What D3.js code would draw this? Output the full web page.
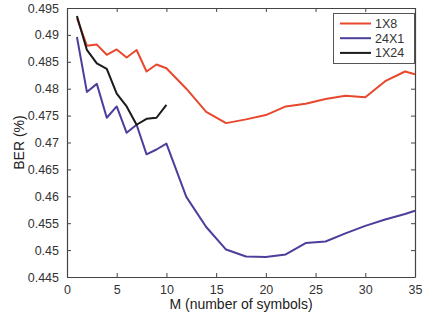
<!DOCTYPE html>
<html>
<head>
<meta charset="utf-8">
<script src="https://cdn.jsdelivr.net/npm/d3@7"></script>
<style>
  html, body { margin: 0; padding: 0; background: #fff; }
  svg { display: block; font-family: "Liberation Sans", Arial, sans-serif; }
</style>
</head>
<body>
<svg id="chart" width="425" height="320"></svg>
<script>
// BER versus number of symbols M for three antenna configurations
const seriesNames = ["1X8", "24X1", "1X24"];
const seriesColors = ["#e8482e", "#4b3f9c", "#1a1a1a"];

const mRed = [1, 2, 3, 4, 5, 6, 7, 8, 9, 10, 12, 14, 16, 18, 20, 22, 24, 26, 28, 30, 32, 34, 35];
const berRed = [0.4931, 0.4880, 0.4882, 0.4863, 0.4873, 0.4858, 0.4872, 0.4832, 0.4845, 0.4838,
                0.4800, 0.4757, 0.4736, 0.4743, 0.4751, 0.4767, 0.4772, 0.4781, 0.4787, 0.4784,
                0.4814, 0.4832, 0.4827];

const mBlue = [1, 2, 3, 4, 5, 6, 7, 8, 9, 10, 12, 14, 16, 18, 20, 22, 24, 26, 28, 30, 32, 34, 35];
const berBlue = [0.4896, 0.4794, 0.4809, 0.4746, 0.4767, 0.4718, 0.4733, 0.4678, 0.4687, 0.4698,
                 0.4599, 0.4543, 0.4501, 0.4488, 0.4487, 0.4492, 0.4513, 0.4516, 0.4531, 0.4545,
                 0.4557, 0.4567, 0.4573];

const mBlack = [1, 2, 3, 4, 5, 6, 7, 8, 9, 10];
const berBlack = [0.4935, 0.4872, 0.4847, 0.4837, 0.4791, 0.4767, 0.4733, 0.4744, 0.4746, 0.4770];

const xTicks = [0, 5, 10, 15, 20, 25, 30, 35];
const yTicks = [0.445, 0.45, 0.455, 0.46, 0.465, 0.47, 0.475, 0.48, 0.485, 0.49, 0.495];

const svg = d3.select("#chart");
const plotL = 67, plotR = 415, plotT = 8, plotB = 277;

const x = d3.scaleLinear().domain([0, 35]).range([plotL, plotR]);
const y = d3.scaleLinear().domain([0.445, 0.495]).range([plotB, plotT]);

const axisColor = "#444";
const tickFont = "12.5px";

// Frame with inward ticks on all four sides
const axes = [
  { axis: d3.axisBottom(x).tickValues(xTicks).tickFormat(d3.format("d")), t: `translate(0,${plotB})` },
  { axis: d3.axisTop(x).tickValues(xTicks).tickFormat(""), t: `translate(0,${plotT})` },
  { axis: d3.axisLeft(y).tickValues(yTicks).tickFormat(d => String(+d.toFixed(3))), t: `translate(${plotL},0)` },
  { axis: d3.axisRight(y).tickValues(yTicks).tickFormat(""), t: `translate(${plotR},0)` }
];

axes.forEach(a => {
  a.axis.tickSizeInner(-4).tickSizeOuter(0).tickPadding(8);
  const g = svg.append("g").attr("transform", a.t).call(a.axis);
  g.select(".domain").attr("stroke", axisColor).attr("stroke-width", 1.2);
  g.selectAll(".tick line").attr("stroke", axisColor);
  g.selectAll(".tick text").attr("fill", "#333").style("font-size", tickFont)
    .style("font-family", "'Liberation Sans', Arial, sans-serif");
});

// Series lines
const line = d3.line().x(d => x(d[0])).y(d => y(d[1]));
const data = [
  d3.zip(mRed, berRed),
  d3.zip(mBlue, berBlue),
  d3.zip(mBlack, berBlack)
];
data.forEach((pts, i) => {
  svg.append("path")
    .datum(pts)
    .attr("fill", "none")
    .attr("stroke", seriesColors[i])
    .attr("stroke-width", 2)
    .attr("stroke-linejoin", "round")
    .attr("d", line);
});

// Axis titles
svg.append("text")
  .attr("x", (plotL + plotR) / 2)
  .attr("y", 309)
  .attr("text-anchor", "middle")
  .attr("fill", "#222")
  .style("font-size", "14px")
  .text("M (number of symbols)");

svg.append("text")
  .attr("transform", `translate(24,${(plotT + plotB) / 2}) rotate(-90)`)
  .attr("text-anchor", "middle")
  .attr("fill", "#222")
  .style("font-size", "14px")
  .text("BER (%)");

// Legend
const lg = svg.append("g");
lg.append("rect")
  .attr("x", 333.5).attr("y", 13.5).attr("width", 81).attr("height", 50)
  .attr("fill", "#fff").attr("stroke", "#555").attr("stroke-width", 1);
seriesNames.forEach((name, i) => {
  const yy = 23.5 + i * 14.7;
  lg.append("line")
    .attr("x1", 340).attr("x2", 371).attr("y1", yy).attr("y2", yy)
    .attr("stroke", seriesColors[i]).attr("stroke-width", 2);
  lg.append("text")
    .attr("x", 375).attr("y", yy + 4.5)
    .attr("fill", "#333")
    .style("font-size", "12.5px")
    .text(name);
});
</script>
</body>
</html>
